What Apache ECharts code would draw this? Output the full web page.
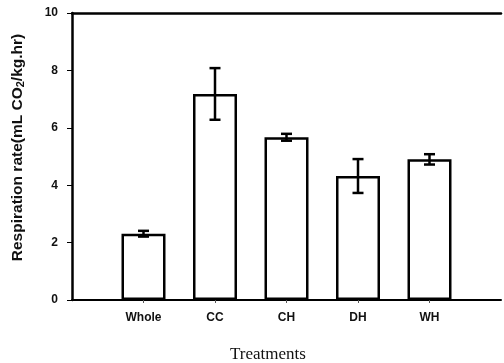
<!DOCTYPE html>
<html>
<head>
<meta charset="utf-8">
<script src="https://cdn.jsdelivr.net/npm/echarts@6/dist/echarts.min.js"></script>
<style>
  html, body { margin: 0; padding: 0; background: #fff; }
  #chart { width: 504px; height: 363px; }
</style>
</head>
<body>
<div id="chart"></div>
<script>
// treatments (blank slots at both ends keep the bars off the axes)
const categories = ['', 'Whole', 'CC', 'CH', 'DH', 'WH', '']
const rates = ['-', 2.31, 7.18, 5.67, 4.32, 4.90, '-']
const errors = [0, 0.10, 0.90, 0.12, 0.59, 0.18, 0]
const yTicks = [0, 2, 4, 6, 8, 10]

const errorData = []
for (let i = 0; i < categories.length; i++) {
  if (rates[i] === '-') continue
  errorData.push([i, rates[i] - errors[i], rates[i] + errors[i]])
}

var myChart = echarts.init(document.getElementById('chart'))
myChart.setOption({
  animation: false,
  title: {
    text: 'Treatments',
    left: 263,
    top: 341,
    textAlign: 'center',
    textStyle: {
      fontFamily: 'Liberation Serif',
      fontWeight: 'normal',
      fontSize: 17,
      color: '#111'
    }
  },
  grid: {
    left: 72,
    right: 1,
    top: 13,
    bottom: 63
  },
  xAxis: [
    {
      type: 'category',
      data: categories,
      boundaryGap: false,
      axisLine: { lineStyle: { color: '#000', width: 2 } },
      axisTick: {
        length: 3,
        lineStyle: { color: '#555', width: 1 },
        interval: function (i) { return i > 0 && i < categories.length - 1 }
      },
      axisLabel: {
        margin: 12,
        interval: 0,
        fontFamily: 'Liberation Sans',
        fontWeight: 'bold',
        fontSize: 12,
        color: '#111'
      },
      splitLine: { show: false }
    },
    {
      // top frame line only
      type: 'category',
      data: categories,
      boundaryGap: false,
      position: 'top',
      axisLine: { lineStyle: { color: '#000', width: 2.5 } },
      axisTick: { show: false },
      axisLabel: { show: false },
      splitLine: { show: false }
    }
  ],
  yAxis: {
    type: 'value',
    min: yTicks[0],
    max: yTicks[yTicks.length - 1],
    interval: 2,
    name: 'Respiration rate(mL CO{s|2}/kg.hr)',
    nameLocation: 'middle',
    nameGap: 46,
    nameTextStyle: {
      fontFamily: 'Liberation Sans',
      fontWeight: 'bold',
      fontSize: 15.5,
      color: '#111',
      padding: [0, 0, 0, 18],
      rich: {
        s: { fontFamily: 'Liberation Sans', fontWeight: 'bold', fontSize: 11, color: '#111', padding: [6, 0, 0, 0] }
      }
    },
    axisLine: { show: true, lineStyle: { color: '#000', width: 2.5 } },
    axisTick: { show: true, length: 5, lineStyle: { color: '#000', width: 1 } },
    axisLabel: {
      margin: 14,
      fontFamily: 'Liberation Sans',
      fontWeight: 'bold',
      fontSize: 12,
      color: '#111'
    },
    splitLine: { show: false }
  },
  series: [
    {
      type: 'bar',
      data: rates,
      barWidth: 44,
      itemStyle: {
        color: '#fff',
        borderColor: '#000',
        borderWidth: 2.5
      }
    },
    {
      type: 'custom',
      data: errorData,
      z: 5,
      renderItem: function (params, api) {
        var x = api.value(0)
        var lo = api.coord([x, api.value(1)])
        var hi = api.coord([x, api.value(2)])
        var half = 5.5
        var style = { stroke: '#000', lineWidth: 2.5 }
        return {
          type: 'group',
          children: [
            { type: 'line', shape: { x1: hi[0], y1: hi[1], x2: lo[0], y2: lo[1] }, style: style },
            { type: 'line', shape: { x1: hi[0] - half, y1: hi[1], x2: hi[0] + half, y2: hi[1] }, style: style },
            { type: 'line', shape: { x1: lo[0] - half, y1: lo[1], x2: lo[0] + half, y2: lo[1] }, style: style }
          ]
        }
      }
    }
  ]
})
</script>
</body>
</html>
